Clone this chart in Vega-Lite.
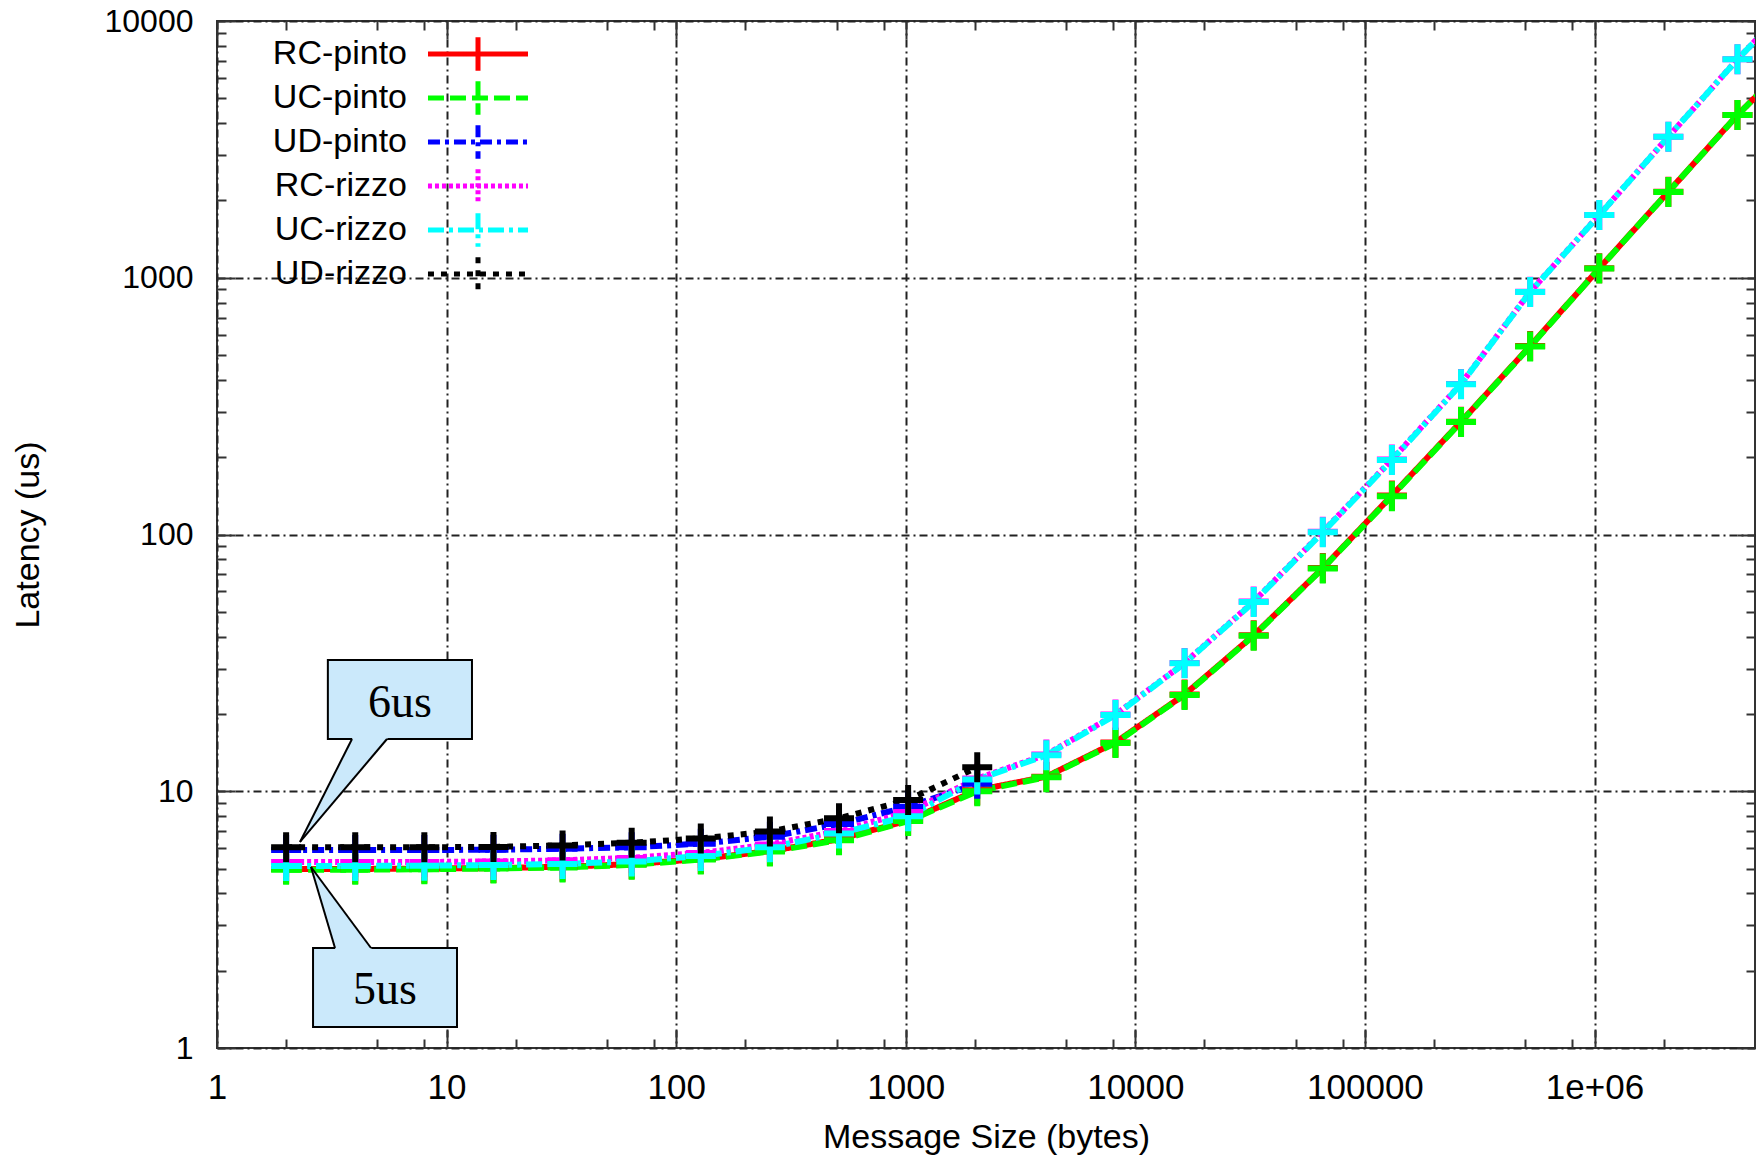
{
  "$schema": "https://vega.github.io/schema/vega-lite/v6.json",
  "autosize": {"type": "none"},
  "padding": {"left": 217, "top": 21, "right": 7, "bottom": 107},
  "width": 1538,
  "height": 1027,
  "background": "white",
  "config": {
    "view": {"stroke": "#333", "strokeWidth": 2},
    "font": "Liberation Sans",
    "axis": {"domain": false, "labelFont": "Liberation Sans", "titleFont": "Liberation Sans", "labelColor": "black", "titleColor": "black", "tickColor": "#333", "tickWidth": 2, "labelOverlap": false, "labelBound": false, "labelFlush": false, "titleFontWeight": "normal"}
  },
  "datasets": {
    "lat": [
      {"s": "RC-pinto", "size": 2, "lat": 4.98}, {"s": "RC-pinto", "size": 4, "lat": 4.98}, {"s": "RC-pinto", "size": 8, "lat": 5.0}, {"s": "RC-pinto", "size": 16, "lat": 5.02}, {"s": "RC-pinto", "size": 32, "lat": 5.08}, {"s": "RC-pinto", "size": 64, "lat": 5.2}, {"s": "RC-pinto", "size": 128, "lat": 5.45}, {"s": "RC-pinto", "size": 256, "lat": 5.85}, {"s": "RC-pinto", "size": 512, "lat": 6.5}, {"s": "RC-pinto", "size": 1024, "lat": 7.7}, {"s": "RC-pinto", "size": 2048, "lat": 10.1}, {"s": "RC-pinto", "size": 4096, "lat": 11.4}, {"s": "RC-pinto", "size": 8192, "lat": 15.5}, {"s": "RC-pinto", "size": 16384, "lat": 23.8}, {"s": "RC-pinto", "size": 32768, "lat": 40.5}, {"s": "RC-pinto", "size": 65536, "lat": 74}, {"s": "RC-pinto", "size": 131072, "lat": 142}, {"s": "RC-pinto", "size": 262144, "lat": 275}, {"s": "RC-pinto", "size": 524288, "lat": 542}, {"s": "RC-pinto", "size": 1048576, "lat": 1088}, {"s": "RC-pinto", "size": 2097152, "lat": 2163}, {"s": "RC-pinto", "size": 4194304, "lat": 4304}, {"s": "RC-pinto", "size": 8388608, "lat": 8000},
      {"s": "UC-pinto", "size": 2, "lat": 4.95}, {"s": "UC-pinto", "size": 4, "lat": 4.95}, {"s": "UC-pinto", "size": 8, "lat": 4.97}, {"s": "UC-pinto", "size": 16, "lat": 5.0}, {"s": "UC-pinto", "size": 32, "lat": 5.05}, {"s": "UC-pinto", "size": 64, "lat": 5.17}, {"s": "UC-pinto", "size": 128, "lat": 5.42}, {"s": "UC-pinto", "size": 256, "lat": 5.82}, {"s": "UC-pinto", "size": 512, "lat": 6.45}, {"s": "UC-pinto", "size": 1024, "lat": 7.65}, {"s": "UC-pinto", "size": 2048, "lat": 10.0}, {"s": "UC-pinto", "size": 4096, "lat": 11.35}, {"s": "UC-pinto", "size": 8192, "lat": 15.4}, {"s": "UC-pinto", "size": 16384, "lat": 23.7}, {"s": "UC-pinto", "size": 32768, "lat": 40.3}, {"s": "UC-pinto", "size": 65536, "lat": 73.8}, {"s": "UC-pinto", "size": 131072, "lat": 141}, {"s": "UC-pinto", "size": 262144, "lat": 274}, {"s": "UC-pinto", "size": 524288, "lat": 540}, {"s": "UC-pinto", "size": 1048576, "lat": 1086}, {"s": "UC-pinto", "size": 2097152, "lat": 2160}, {"s": "UC-pinto", "size": 4194304, "lat": 4300}, {"s": "UC-pinto", "size": 8388608, "lat": 8000},
      {"s": "UD-pinto", "size": 2, "lat": 5.9}, {"s": "UD-pinto", "size": 4, "lat": 5.9}, {"s": "UD-pinto", "size": 8, "lat": 5.9}, {"s": "UD-pinto", "size": 16, "lat": 5.92}, {"s": "UD-pinto", "size": 32, "lat": 5.97}, {"s": "UD-pinto", "size": 64, "lat": 6.05}, {"s": "UD-pinto", "size": 128, "lat": 6.25}, {"s": "UD-pinto", "size": 256, "lat": 6.65}, {"s": "UD-pinto", "size": 512, "lat": 7.45}, {"s": "UD-pinto", "size": 1024, "lat": 8.7}, {"s": "UD-pinto", "size": 2048, "lat": 10.7},
      {"s": "RC-rizzo", "size": 2, "lat": 5.3}, {"s": "RC-rizzo", "size": 4, "lat": 5.3}, {"s": "RC-rizzo", "size": 8, "lat": 5.3}, {"s": "RC-rizzo", "size": 16, "lat": 5.33}, {"s": "RC-rizzo", "size": 32, "lat": 5.38}, {"s": "RC-rizzo", "size": 64, "lat": 5.5}, {"s": "RC-rizzo", "size": 128, "lat": 5.75}, {"s": "RC-rizzo", "size": 256, "lat": 6.2}, {"s": "RC-rizzo", "size": 512, "lat": 7.0}, {"s": "RC-rizzo", "size": 1024, "lat": 8.3}, {"s": "RC-rizzo", "size": 2048, "lat": 11.2}, {"s": "RC-rizzo", "size": 4096, "lat": 13.9}, {"s": "RC-rizzo", "size": 8192, "lat": 19.9}, {"s": "RC-rizzo", "size": 16384, "lat": 31.6}, {"s": "RC-rizzo", "size": 32768, "lat": 54.8}, {"s": "RC-rizzo", "size": 65536, "lat": 102.5}, {"s": "RC-rizzo", "size": 131072, "lat": 196}, {"s": "RC-rizzo", "size": 262144, "lat": 386}, {"s": "RC-rizzo", "size": 524288, "lat": 882}, {"s": "RC-rizzo", "size": 1048576, "lat": 1756}, {"s": "RC-rizzo", "size": 2097152, "lat": 3541}, {"s": "RC-rizzo", "size": 4194304, "lat": 7093}, {"s": "RC-rizzo", "size": 8388608, "lat": 13500},
      {"s": "UC-rizzo", "size": 2, "lat": 5.12}, {"s": "UC-rizzo", "size": 4, "lat": 5.12}, {"s": "UC-rizzo", "size": 8, "lat": 5.13}, {"s": "UC-rizzo", "size": 16, "lat": 5.16}, {"s": "UC-rizzo", "size": 32, "lat": 5.21}, {"s": "UC-rizzo", "size": 64, "lat": 5.33}, {"s": "UC-rizzo", "size": 128, "lat": 5.6}, {"s": "UC-rizzo", "size": 256, "lat": 6.05}, {"s": "UC-rizzo", "size": 512, "lat": 6.85}, {"s": "UC-rizzo", "size": 1024, "lat": 8.0}, {"s": "UC-rizzo", "size": 2048, "lat": 11.1}, {"s": "UC-rizzo", "size": 4096, "lat": 13.8}, {"s": "UC-rizzo", "size": 8192, "lat": 19.8}, {"s": "UC-rizzo", "size": 16384, "lat": 31.5}, {"s": "UC-rizzo", "size": 32768, "lat": 54.6}, {"s": "UC-rizzo", "size": 65536, "lat": 102}, {"s": "UC-rizzo", "size": 131072, "lat": 195}, {"s": "UC-rizzo", "size": 262144, "lat": 385}, {"s": "UC-rizzo", "size": 524288, "lat": 880}, {"s": "UC-rizzo", "size": 1048576, "lat": 1754}, {"s": "UC-rizzo", "size": 2097152, "lat": 3540}, {"s": "UC-rizzo", "size": 4194304, "lat": 7090}, {"s": "UC-rizzo", "size": 8388608, "lat": 13500},
      {"s": "UD-rizzo", "size": 2, "lat": 6.05}, {"s": "UD-rizzo", "size": 4, "lat": 6.05}, {"s": "UD-rizzo", "size": 8, "lat": 6.05}, {"s": "UD-rizzo", "size": 16, "lat": 6.07}, {"s": "UD-rizzo", "size": 32, "lat": 6.15}, {"s": "UD-rizzo", "size": 64, "lat": 6.3}, {"s": "UD-rizzo", "size": 128, "lat": 6.55}, {"s": "UD-rizzo", "size": 256, "lat": 6.97}, {"s": "UD-rizzo", "size": 512, "lat": 7.85}, {"s": "UD-rizzo", "size": 1024, "lat": 9.25}, {"s": "UD-rizzo", "size": 2048, "lat": 12.4}
    ],
    "boxes": [
      {"x": 3.04, "x2": 12.9, "y": 15.98, "y2": 32.44},
      {"x": 2.62, "x2": 11.1, "y": 1.207, "y2": 2.452}
    ],
    "tri": [
      {"id": "u", "ty": 6.345, "tx1": 2.299, "tx2": 2.299},
      {"id": "u", "ty": 16.41, "tx1": 3.93, "tx2": 5.64},
      {"id": "l", "ty": 5.07, "tx1": 2.567, "tx2": 2.567},
      {"id": "l", "ty": 2.387, "tx1": 3.295, "tx2": 4.789}
    ],
    "edges": [
      {"e": "u1", "x": 2.299, "y": 6.345}, {"e": "u1", "x": 3.873, "y": 15.98},
      {"e": "u2", "x": 2.299, "y": 6.345}, {"e": "u2", "x": 5.501, "y": 15.98},
      {"e": "l1", "x": 2.567, "y": 5.07}, {"e": "l1", "x": 3.266, "y": 2.452},
      {"e": "l2", "x": 2.567, "y": 5.07}, {"e": "l2", "x": 4.686, "y": 2.452}
    ],
    "notes": [
      {"label": "6us", "x": 6.266, "y": 22.07},
      {"label": "5us", "x": 5.392, "y": 1.682}
    ]
  },
  "resolve": {"axis": {"x": "independent", "y": "independent"}},
  "layer": [
    {
      "data": {"name": "lat"},
      "mark": {"type": "line", "strokeWidth": 6, "clip": true},
      "encoding": {
        "x": {"field": "size", "type": "quantitative", "scale": {"type": "log", "domain": [1, 5000000], "nice": false},
          "axis": {"orient": "bottom", "values": [1, 10, 100, 1000, 10000, 100000, 1000000], "labelExpr": "datum.value == 1000000 ? '1e+06' : format(datum.value, 'd')", "labelFontSize": 35, "labelPadding": 40, "tickSize": -18, "grid": true, "gridColor": "#222", "gridWidth": 2, "gridDash": [8, 4, 2, 4], "title": "Message Size (bytes)", "titleFontSize": 34, "titleBaseline": "middle", "titleY": 89}},
        "y": {"field": "lat", "type": "quantitative", "scale": {"type": "log", "domain": [1, 10000], "nice": false},
          "axis": {"orient": "left", "values": [1, 10, 100, 1000, 10000], "format": "d", "labelFontSize": 32, "labelPadding": 42, "tickSize": -18, "grid": true, "gridColor": "#222", "gridWidth": 2, "gridDash": [8, 4, 2, 4], "title": "Latency (us)", "titleFontSize": 34, "titleAngle": -90, "titleBaseline": "middle", "titleX": -189}},
        "color": {"field": "s", "type": "nominal",
          "scale": {"domain": ["RC-pinto", "UC-pinto", "UD-pinto", "RC-rizzo", "UC-rizzo", "UD-rizzo"], "range": ["#ff0000", "#00ff00", "#0000ff", "#ff00ff", "#00ffff", "#000000"]},
          "legend": {"orient": "none", "legendX": 244, "legendY": 16, "title": null, "labelFontSize": 34, "labelFont": "Liberation Sans", "labelColor": "black", "labelAlign": "right", "labelOffset": -88, "labelLimit": 400, "symbolType": "M-6,0H6M0,-2V2", "symbolSize": 278, "symbolStrokeWidth": 5, "rowPadding": -18, "padding": 0}},
        "strokeDash": {"field": "s", "type": "nominal",
          "scale": {"domain": ["RC-pinto", "UC-pinto", "UD-pinto", "RC-rizzo", "UC-rizzo", "UD-rizzo"], "range": [[1, 0], [16, 6], [12, 5, 4, 5], [4, 3], [16, 5, 4, 5], [6, 7]]}}
      }
    },
    {
      "data": {"name": "lat"},
      "mark": {"type": "point", "shape": "M-1,0H1M0,-1V1", "filled": false, "strokeWidth": 6, "size": 900, "opacity": 1, "clip": true},
      "encoding": {
        "x": {"field": "size", "type": "quantitative", "scale": {"type": "log", "domain": [1, 5000000], "nice": false},
          "axis": {"orient": "bottom", "values": [2, 5, 8, 20, 50, 80, 200, 500, 800, 2000, 5000, 8000, 20000, 50000, 80000, 200000, 500000, 800000, 2000000], "labels": false, "tickSize": -9, "grid": false, "title": null}},
        "y": {"field": "lat", "type": "quantitative", "scale": {"type": "log", "domain": [1, 10000], "nice": false},
          "axis": {"orient": "left", "values": [2, 3, 4, 5, 6, 7, 8, 9, 20, 30, 40, 50, 60, 70, 80, 90, 200, 300, 400, 500, 600, 700, 800, 900, 2000, 3000, 4000, 5000, 6000, 7000, 8000, 9000], "labels": false, "tickSize": -9, "grid": false, "title": null}},
        "color": {"field": "s", "type": "nominal", "scale": {"domain": ["RC-pinto", "UC-pinto", "UD-pinto", "RC-rizzo", "UC-rizzo", "UD-rizzo"], "range": ["#ff0000", "#00ff00", "#0000ff", "#ff00ff", "#00ffff", "#000000"]}}
      }
    },
    {
      "data": {"name": "boxes"},
      "mark": {"type": "rect", "fill": "#cbe9fb", "stroke": "black", "strokeWidth": 2},
      "encoding": {
        "x": {"field": "x", "type": "quantitative", "scale": {"type": "log", "domain": [1, 5000000], "nice": false},
          "axis": {"orient": "top", "values": [1, 10, 100, 1000, 10000, 100000, 1000000], "labels": false, "tickSize": -18, "grid": false, "title": null}},
        "x2": {"field": "x2"},
        "y": {"field": "y", "type": "quantitative", "scale": {"type": "log", "domain": [1, 10000], "nice": false},
          "axis": {"orient": "right", "values": [1, 10, 100, 1000, 10000], "labels": false, "tickSize": -18, "grid": false, "title": null}},
        "y2": {"field": "y2"}
      }
    },
    {
      "data": {"name": "tri"},
      "mark": {"type": "area", "orient": "horizontal", "fill": "#cbe9fb", "opacity": 1},
      "encoding": {
        "y": {"field": "ty", "type": "quantitative", "scale": {"type": "log", "domain": [1, 10000], "nice": false},
          "axis": {"orient": "right", "values": [2, 3, 4, 5, 6, 7, 8, 9, 20, 30, 40, 50, 60, 70, 80, 90, 200, 300, 400, 500, 600, 700, 800, 900, 2000, 3000, 4000, 5000, 6000, 7000, 8000, 9000], "labels": false, "tickSize": -9, "grid": false, "title": null}},
        "x": {"field": "tx1", "type": "quantitative", "scale": {"type": "log", "domain": [1, 5000000], "nice": false},
          "axis": {"orient": "top", "values": [2, 5, 8, 20, 50, 80, 200, 500, 800, 2000, 5000, 8000, 20000, 50000, 80000, 200000, 500000, 800000, 2000000], "labels": false, "tickSize": -9, "grid": false, "title": null}},
        "x2": {"field": "tx2"},
        "detail": {"field": "id"}
      }
    },
    {
      "data": {"name": "edges"},
      "mark": {"type": "line", "stroke": "black", "strokeWidth": 2},
      "encoding": {
        "x": {"field": "x", "type": "quantitative", "scale": {"type": "log", "domain": [1, 5000000], "nice": false}, "axis": null},
        "y": {"field": "y", "type": "quantitative", "scale": {"type": "log", "domain": [1, 10000], "nice": false}, "axis": null},
        "detail": {"field": "e"}
      }
    },
    {
      "data": {"name": "notes"},
      "mark": {"type": "text", "font": "Liberation Serif", "fontSize": 46, "align": "center", "baseline": "middle", "color": "black"},
      "encoding": {
        "x": {"field": "x", "type": "quantitative", "scale": {"type": "log", "domain": [1, 5000000], "nice": false}, "axis": null},
        "y": {"field": "y", "type": "quantitative", "scale": {"type": "log", "domain": [1, 10000], "nice": false}, "axis": null},
        "text": {"field": "label"}
      }
    }
  ]
}
